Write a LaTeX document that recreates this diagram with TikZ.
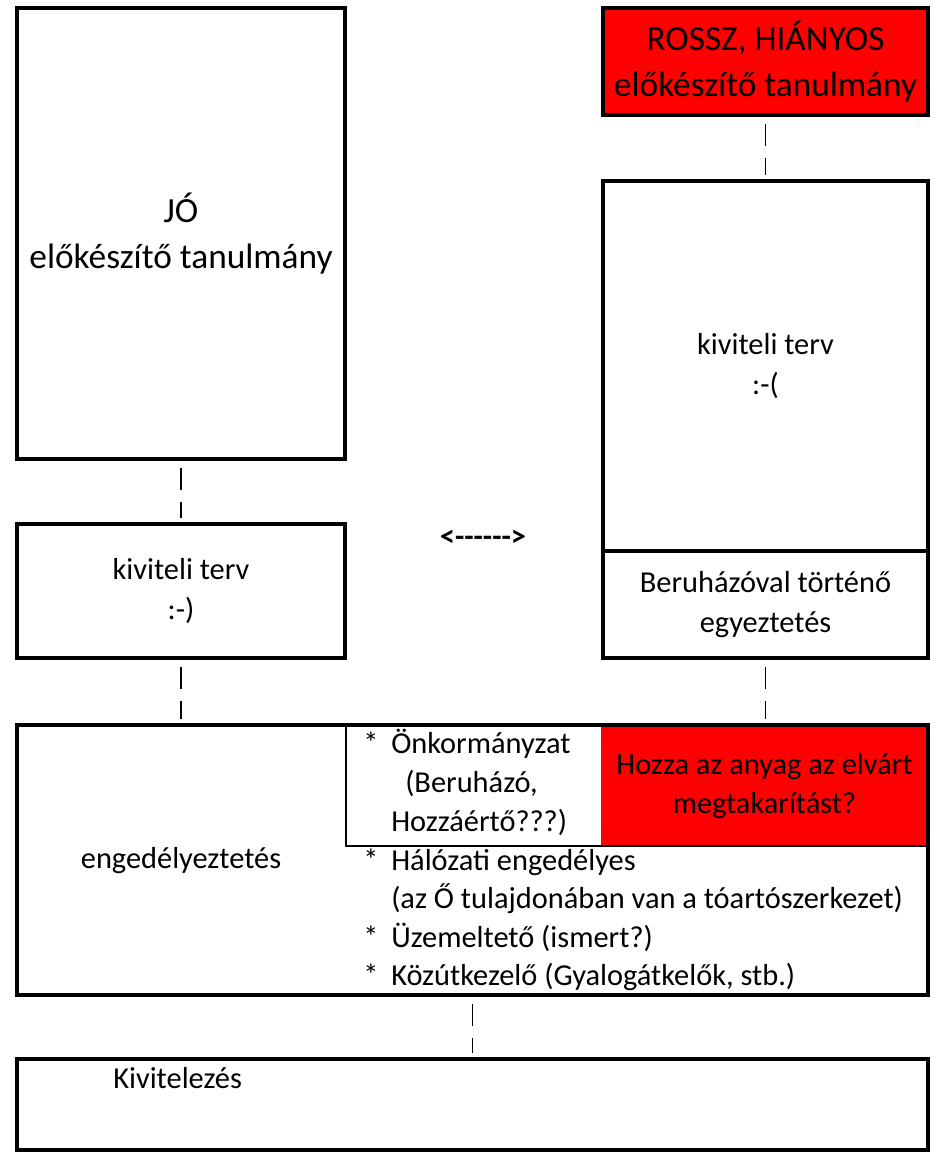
\documentclass[tikz,border=0pt]{standalone}
\usepackage{fontspec}
\setmainfont{Carlito}
\usetikzlibrary{positioning}

\begin{document}
\begin{tikzpicture}[x=0.75pt, y=-0.75pt,
    box/.style={draw, line width=3pt, inner sep=0pt, align=center, font=\fontsize{22.8}{30}\selectfont},
    title/.style={font=\fontsize{26.5}{34.5}\selectfont},
    link/.style={line width=1.1pt, dash pattern=on 16.5pt off 9pt, shorten <=5pt, shorten >=3pt},
    item/.style={anchor=base west, inner sep=0pt, font=\fontsize{22.8}{29}\selectfont}]
    \useasboundingbox (0,0) rectangle (933,1160);
    % left column
    \node[box, title, minimum width=328*0.75pt, minimum height=451*0.75pt] at (181,233.5) (jo) {JÓ\\előkészítő tanulmány};
    \node[box, minimum width=328*0.75pt, minimum height=134*0.75pt] at (181,591) (kivL) {kiviteli terv\\:-)};
    % right column
    \node[box, title, fill=red, minimum width=325*0.75pt, minimum height=107*0.75pt] at (765.5,61.5) (rossz) {ROSSZ, HIÁNYOS\\előkészítő tanulmány};
    \node[box, minimum width=325*0.75pt, minimum height=370*0.75pt] at (765.5,366) (kivR) {kiviteli terv\\:-(};
    \node[box, minimum width=325*0.75pt, minimum height=107*0.75pt] at (765.5,604.5) (egyez) {Beruházóval történő\\egyeztetés};
    \node[font=\bfseries\fontsize{22.8}{30}\selectfont, inner sep=0pt] at (483,538) (nyil) {<-{}-{}-{}-{}-{}->};
    % engedelyeztetes
    \node[fill=red, inner sep=0pt, align=center, font=\fontsize{22.8}{29.5}\selectfont, minimum width=327*0.75pt, minimum height=119*0.75pt] at (764.5,786) (megtak) {Hozza az anyag az elvárt\\megtakarítást?};
    \node[box, minimum width=911*0.75pt, minimum height=270*0.75pt] at (472.5,860) (eng) {};
    \draw[line width=2pt] (346,725) |- (928,846);
    \node[font=\fontsize{22.8}{30}\selectfont, inner sep=0pt] at (181,861) (engtxt) {engedélyeztetés};
    \node[item] at (363,753) (a1) {*};
    \node[item] at (391,753) (onk) {Önkormányzat};
    \node[item] at (405,792) (beru) {(Beruházó,};
    \node[item] at (391,831) (hozza) {Hozzáértő???)};
    \node[item] at (363,870) (a2) {*};
    \node[item] at (391,870) (halo) {Hálózati engedélyes};
    \node[item] at (391,908) (tulaj) {(az Ő tulajdonában van a tóartószerkezet)};
    \node[item] at (363,947) (a3) {*};
    \node[item] at (391,947) (uzem) {Üzemeltető (ismert?)};
    \node[item] at (363,985) (a4) {*};
    \node[item] at (391,985) (kozut) {Közútkezelő (Gyalogátkelők, stb.)};
    % kivitelezes
    \node[box, minimum width=911*0.75pt, minimum height=91*0.75pt] at (472.5,1104.5) (kiv) {};
    \node[item] at (113,1088) (kivtxt) {Kivitelezés};
    % connectors
    \draw[link] (rossz) -- (kivR);
    \draw[link] (jo) -- (kivL);
    \draw[link] (kivL) -- (kivL |- eng.north);
    \draw[link] (egyez) -- (egyez |- eng.north);
    \draw[link] (eng) -- (kiv);
\end{tikzpicture}
\end{document}
